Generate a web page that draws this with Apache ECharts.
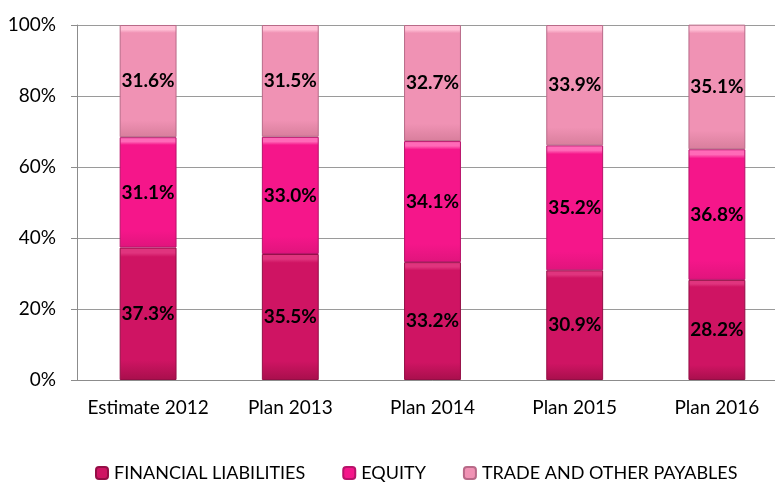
<!DOCTYPE html>
<html>
<head>
<meta charset="utf-8">
<script src="https://cdn.jsdelivr.net/npm/echarts@6/dist/echarts.min.js"></script>
<style>
  html, body { margin: 0; padding: 0; background: #fff; overflow: hidden; }
  #chart { width: 790px; height: 483px; }
</style>
</head>
<body>
<div id="chart"></div>
<script>
// categories and shares (%)
var categories = ['Estimate 2012', 'Plan 2013', 'Plan 2014', 'Plan 2015', 'Plan 2016'];
var financialLiabilities = [37.3, 35.5, 33.2, 30.9, 28.2];
var equity = [31.1, 33.0, 34.1, 35.2, 36.8];
var tradePayables = [31.6, 31.5, 32.7, 33.9, 35.1];
var seriesNames = ['FINANCIAL LIABILITIES', 'EQUITY', 'TRADE AND OTHER PAYABLES'];

var font = 'Lato, "Open Sans", sans-serif';

// bevel-ish fill: light strip on top, slightly darker towards the bottom
function grad(top, mid, bottom) {
  return new echarts.graphic.LinearGradient(0, 0, 0, 1, [
    { offset: 0, color: top },
    { offset: 0.04, color: top },
    { offset: 0.07, color: mid },
    { offset: 0.85, color: mid },
    { offset: 1, color: bottom }
  ]);
}

function makeSeries(name, data, c) {
  return {
    name: name,
    type: 'bar',
    stack: 'total',
    barWidth: '40%',
    data: data,
    itemStyle: {
      color: grad(c[0], c[1], c[2]),
      borderColor: c[3],
      borderWidth: 1
    },
    label: {
      show: true,
      position: 'inside',
      formatter: function (p) { return p.value.toFixed(1) + '%'; },
      color: '#000',
      fontWeight: 'bold',
      fontSize: 19,
      fontFamily: font
    }
  };
}

var chart = echarts.init(document.getElementById('chart'));
chart.setOption({
  animation: false,
  grid: { left: 77, right: 2, top: 25, bottom: 103 },
  legend: {
    left: 90,
    top: 459,
    itemWidth: 12,
    itemHeight: 12,
    itemGap: 37,
    textStyle: { fontFamily: font, fontSize: 18, color: '#000', padding: [0, 0, 0, 1] },
    data: seriesNames
  },
  xAxis: {
    type: 'category',
    data: categories,
    axisLine: { lineStyle: { color: '#8c8c8c' } },
    axisTick: { show: false },
    axisLabel: { fontFamily: font, fontSize: 19, color: '#000', margin: 18, interval: 0 }
  },
  yAxis: {
    type: 'value',
    min: 0,
    max: 100,
    interval: 20,
    axisLine: { show: true, lineStyle: { color: '#8c8c8c' } },
    axisTick: { show: true, length: 6, lineStyle: { color: '#8c8c8c' } },
    splitLine: { lineStyle: { color: '#9a9a9a' } },
    axisLabel: {
      formatter: '{value}%',
      fontFamily: font,
      fontSize: 19,
      color: '#000',
      margin: 21
    }
  },
  series: [
    makeSeries(seriesNames[0], financialLiabilities, ['#e0347e', '#cf1463', '#a80f4c', '#940e46']),
    makeSeries(seriesNames[1], equity, ['#ff6ab8', '#f5168a', '#e0147c', '#b8126a']),
    makeSeries(seriesNames[2], tradePayables, ['#ffc0d6', '#f092b4', '#d87e9c', '#b86a88'])
  ]
});
</script>
</body>
</html>
